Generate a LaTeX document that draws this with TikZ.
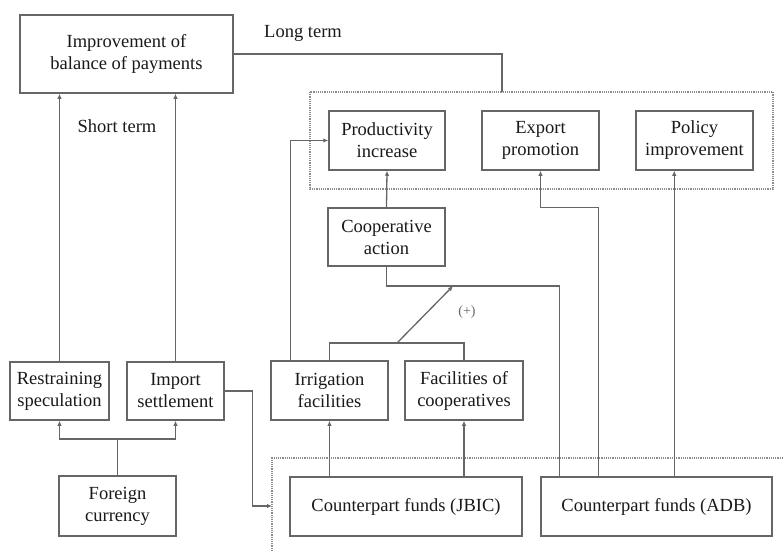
\documentclass[tikz,border=0pt]{standalone}
\usepackage{fontspec}
\setmainfont{Liberation Serif}
\usetikzlibrary{arrows.meta}
\usetikzlibrary{calc}

\begin{document}
\begin{tikzpicture}[x=1pt, y=-1pt,
    box/.style={draw=black!60, line width=1.5pt, fill=white, align=center, inner sep=1pt, text=black!90,
                font=\rmfamily\fontsize{18.5}{22}\selectfont},
    link/.style={draw=black!60, line width=1.3pt},
    arr/.style={link, -{Latex[length=5pt,width=4.5pt]}},
    zone/.style={draw=black!45, line width=1.2pt, densely dotted},
    lbl/.style={text=black!90, font=\rmfamily\fontsize{18.5}{22}\selectfont}]
              \useasboundingbox (0,0) rectangle (783,551);
              % dotted zones
              \draw[zone] (310,92) rectangle (773,189);
              \draw[zone] (272,551) -- (272,458) -- (783,458);
              % boxes
              \node[box, minimum width=213pt, minimum height=78pt] (bop) at (126.5,54) {Improvement of\\balance of payments};
              \node[box, minimum width=116pt, minimum height=59pt] (prod) at (387,140.5) {Productivity\\increase};
              \node[box, minimum width=117pt, minimum height=59pt] (exp) at (540.5,140.5) {Export\\promotion};
              \node[box, minimum width=117pt, minimum height=59pt] (pol) at (694.5,140.5) {Policy\\improvement};
              \node[box, minimum width=117pt, minimum height=58pt] (coop) at (386.5,237) {Cooperative\\action};
              \node[box, minimum width=99pt, minimum height=58pt] (restr) at (59.5,391) {Restraining\\speculation};
              \node[box, minimum width=97pt, minimum height=58pt] (imp) at (175.5,391) {Import\\settlement};
              \node[box, minimum width=117pt, minimum height=59pt] (irr) at (329.5,390.5) {Irrigation\\facilities};
              \node[box, minimum width=118pt, minimum height=59pt] (fac) at (464,390.5) {Facilities of\\cooperatives};
              \node[box, minimum width=117pt, minimum height=60pt] (fc) at (117.5,506) {Foreign\\currency};
              \node[box, minimum width=232pt, minimum height=59pt] (jbic) at (406,506.5) {Counterpart funds (JBIC)};
              \node[box, minimum width=231pt, minimum height=59pt] (adb) at (656.5,506.5) {Counterpart funds (ADB)};
              % labels
              \node[lbl] (long) at (303,33) {Long term};
              \node[lbl] (short) at (117,126) {Short term};
              \node[lbl, text=black!60, font=\rmfamily\fontsize{14}{16}\selectfont] (plus) at (467,312) {(+)};
              % helper points
              \coordinate (longend) at (502,92);
              \coordinate (fcjoin) at (117.5,439);
              \coordinate (fundsin) at (272,506);
              \coordinate (irrjoin) at (397,343);
              \coordinate (coopjoin) at (453,286);
              \coordinate (adbcoop) at ($(adb.north west)+(19,0)$);
              \coordinate (adbexp) at ($(adb.north west)+(58,0)$);
              \coordinate (adbpol) at ($(adb.north west)+(134,0)$);
              % connectors
              \draw[link] (bop.east) -| (longend);
              \draw[arr] (restr.north) -- (restr.north |- bop.south);
              \draw[arr] (imp.north) -- (imp.north |- bop.south);
              \draw[link] (fc.north) -- (fcjoin);
              \draw[arr] (fcjoin) -| (restr.south);
              \draw[arr] (fcjoin) -| (imp.south);
              \draw[arr] (imp.east) -- ++(28,0) |- (fundsin);
              \draw[arr] ($(irr.north west)+(20,0)$) |- (prod.west);
              \draw[arr] (coop.north) -- (prod.south);
              \draw[link] (irr.north) |- (irrjoin) -| (fac.north);
              \draw[arr] (irrjoin) -- (coopjoin);
              \draw[link] (adbcoop) |- (coopjoin) -| (coop.south);
              \draw[arr] (adbexp) -- ++(0,-269) -| (exp.south);
              \draw[arr] (adbpol) -- (adbpol |- pol.south);
              \draw[arr] (irr.south |- jbic.north) -- (irr.south);
              \draw[arr] (fac.south |- jbic.north) -- (fac.south);
          \end{tikzpicture}
\end{document}
